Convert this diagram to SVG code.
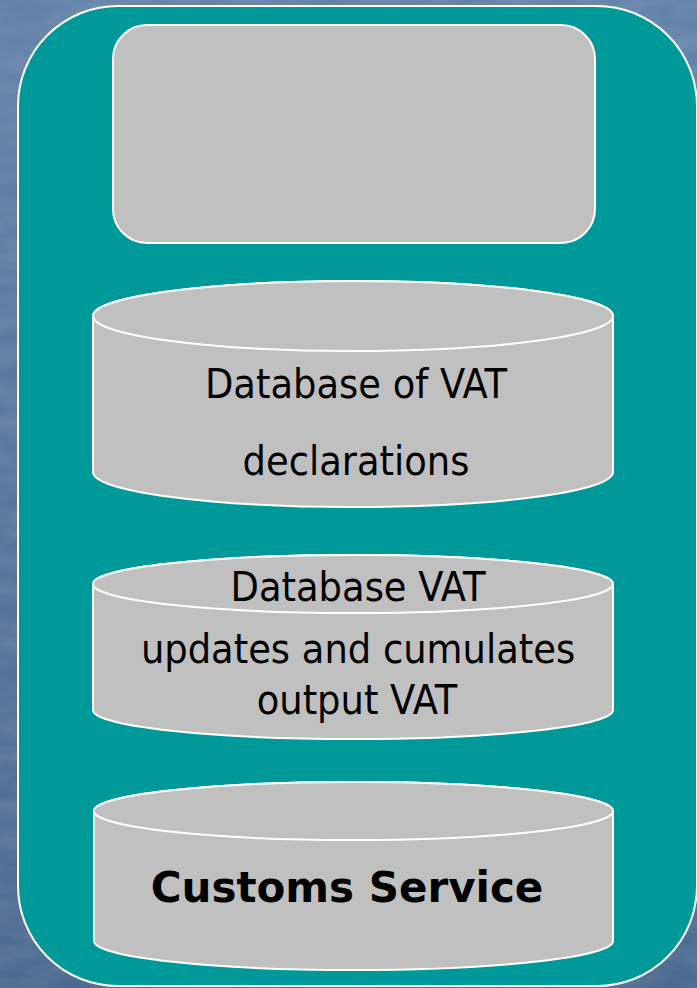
<svg xmlns="http://www.w3.org/2000/svg" width="697" height="988" viewBox="0 0 697 988">
  <defs>
    <linearGradient id="bg" x1="0" y1="0" x2="0" y2="1">
      <stop offset="0" stop-color="#6282A8"/>
      <stop offset="1" stop-color="#4C6A90"/>
    </linearGradient>
    <filter id="noise" x="0" y="0" width="100%" height="100%">
      <feTurbulence type="fractalNoise" baseFrequency="0.02 0.06" numOctaves="3" seed="4"/>
      <feColorMatrix type="matrix" values="0 0 0 0 1  0 0 0 0 1  0 0 0 0 1  0 0 0 0.18 -0.05"/>
    </filter>
  </defs>
  <style>
    .shape { fill: #C0C0C0; stroke: #FFFFFF; stroke-width: 2; }
    .lbl { font-family: 'DejaVu Sans Condensed', 'DejaVu Sans', sans-serif; font-stretch: condensed; font-size: 41px; fill: #000000; text-anchor: middle; }
    .bold { font-family: 'DejaVu Sans', sans-serif; font-stretch: normal; font-weight: bold; font-size: 42px; }
  </style>
  <rect x="0" y="0" width="697" height="988" fill="url(#bg)"/>
  <rect x="0" y="0" width="697" height="988" filter="url(#noise)"/>

  <g id="container">
    <rect x="18" y="6" width="679" height="980" rx="100" ry="100" fill="#009999" stroke="#FFFFFF" stroke-width="2"/>
  </g>

  <g id="top-box">
    <rect class="shape" x="113" y="25" width="482" height="218" rx="34" ry="34"/>
  </g>

  <g id="db-declarations">
    <path class="shape" d="M93,316 L93,472 A260,35 0 0 0 613,472 L613,316 A260,35 0 0 0 93,316 Z"/>
    <ellipse class="shape" cx="353" cy="316" rx="260" ry="35"/>
    <text class="lbl" x="356" y="398">Database of VAT</text>
    <text class="lbl" x="356" y="475">declarations</text>
  </g>

  <g id="db-output">
    <path class="shape" d="M93,584 L93,710 A260,29 0 0 0 613,710 L613,584 A260,29 0 0 0 93,584 Z"/>
    <ellipse class="shape" cx="353" cy="584" rx="260" ry="29"/>
    <text class="lbl" x="358" y="601">Database VAT</text>
    <text class="lbl" x="358" y="663">updates and cumulates</text>
    <text class="lbl" x="357" y="714">output VAT</text>
  </g>

  <g id="customs">
    <path class="shape" d="M94,811 L94,941 A259.5,29 0 0 0 613,941 L613,811 A259.5,29 0 0 0 94,811 Z"/>
    <ellipse class="shape" cx="353.5" cy="811" rx="259.5" ry="29"/>
    <text class="lbl bold" x="347" y="902">Customs Service</text>
  </g>

  <g id="connectors"/>
</svg>
